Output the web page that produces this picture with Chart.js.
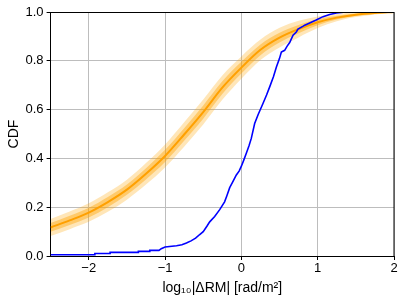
<!DOCTYPE html>
<html>
<head>
<meta charset="utf-8">
<script src="https://cdn.jsdelivr.net/npm/chart.js@4/dist/chart.umd.min.js"></script>
<style>
html,body{margin:0;padding:0;background:#fff;}
#wrap{width:404px;height:302px;}
</style>
</head>
<body>
<div id="wrap"><canvas id="c" width="404" height="302"></canvas></div>
<script>
// ---- data ----
const gridX = [-2.5,-2.25,-2.0,-1.75,-1.5,-1.25,-1.0,-0.75,-0.5,-0.25,0,0.25,0.5,0.75,1.0,1.25,1.5,1.75,2.0];
const medianCDF = [0.117,0.146,0.178,0.221,0.272,0.337,0.410,0.498,0.590,0.690,0.772,0.845,0.895,0.930,0.958,0.977,0.989,0.996,1.0];
const outerHalf = [0.035,0.036,0.038,0.040,0.041,0.044,0.047,0.050,0.051,0.050,0.046,0.042,0.040,0.034,0.024,0.015,0.010,0.006,0.002];
const innerHalf = [0.018,0.019,0.020,0.021,0.021,0.023,0.025,0.026,0.027,0.026,0.024,0.022,0.020,0.017,0.012,0.008,0.005,0.003,0.001];
const obsX = [-2.5,-1.92,-1.92,-1.72,-1.72,-1.35,-1.35,-1.2,-1.2,-1.08,-1.05,-1.0,-0.85,-0.78,-0.72,-0.66,-0.6,-0.55,-0.5,-0.45,-0.415,-0.35,-0.284,-0.22,-0.19,-0.153,-0.12,-0.066,-0.03,0,0.03,0.066,0.1,0.13,0.174,0.22,0.283,0.33,0.371,0.42,0.459,0.5,0.524,0.567,0.6,0.633,0.677,0.72,0.742,0.81,0.83,0.895,0.98,1.07,1.157,1.245,1.37];
const obsCDF = [0.005,0.005,0.010,0.010,0.015,0.015,0.019,0.019,0.023,0.023,0.030,0.037,0.042,0.046,0.053,0.062,0.073,0.087,0.100,0.123,0.140,0.162,0.190,0.222,0.247,0.280,0.300,0.332,0.348,0.368,0.392,0.422,0.452,0.482,0.543,0.580,0.625,0.660,0.693,0.735,0.775,0.810,0.836,0.843,0.860,0.875,0.905,0.918,0.930,0.942,0.946,0.955,0.967,0.981,0.990,0.996,1.0];
const xTicks = [-2,-1,0,1,2];
const yTicks = [0,0.2,0.4,0.6,0.8,1.0];

const pts = (xs, ys) => xs.map((x,i)=>({x:x, y:ys[i]}));
const band = (sign, half) => gridX.map((x,i)=>({x:x, y:Math.min(1, medianCDF[i] + sign*half[i])}));

const borderPlugin = {
  id:'frame',
  afterDatasetsDraw(chart){
    const {ctx, chartArea:a} = chart;
    ctx.save();
    ctx.lineWidth = 1;
    ctx.strokeStyle = '#000';
    ctx.beginPath();
    ctx.moveTo(a.left, a.top+0.5); ctx.lineTo(a.right, a.top+0.5);
    ctx.stroke();
    ctx.beginPath();
    ctx.moveTo(a.right, a.top); ctx.lineTo(a.right, a.bottom);
    ctx.stroke();
    ctx.restore();
  }
};

const FONT = "'Liberation Sans', Arial, Helvetica, sans-serif";

new Chart(document.getElementById('c'), {
  type:'line',
  data:{
    datasets:[
      {data:band(1,outerHalf), fill:'+1', backgroundColor:'rgba(255,165,0,0.28)', borderColor:'transparent', borderWidth:0, pointRadius:0, cubicInterpolationMode:'monotone', order:4},
      {data:band(-1,outerHalf), fill:false, borderColor:'transparent', borderWidth:0, pointRadius:0, cubicInterpolationMode:'monotone', order:4},
      {data:band(1,innerHalf), fill:'+1', backgroundColor:'rgba(255,165,0,0.42)', borderColor:'transparent', borderWidth:0, pointRadius:0, cubicInterpolationMode:'monotone', order:3},
      {data:band(-1,innerHalf), fill:false, borderColor:'transparent', borderWidth:0, pointRadius:0, cubicInterpolationMode:'monotone', order:3},
      {data:pts(gridX, medianCDF), fill:false, borderColor:'rgb(255,160,0)', borderWidth:2, pointRadius:0, cubicInterpolationMode:'monotone', order:2},
      {data:pts(obsX, obsCDF), fill:false, borderColor:'rgb(0,0,255)', borderWidth:1.6, pointRadius:0, tension:0, order:1}
    ]
  },
  options:{
    responsive:false,
    animation:false,
    events:[],
    layout:{padding:{left:0, right:10, top:12, bottom:0}},
    plugins:{legend:{display:false}, tooltip:{enabled:false}},
    scales:{
      x:{
        type:'linear', min:-2.5, max:2,
        afterBuildTicks(s){ s.ticks = xTicks.map(v=>({value:v})); },
        afterFit(s){ s.height = 46; },
        grid:{color:'#bdbdbd', lineWidth:1, tickColor:'#000', tickLength:4, drawTicks:true},
        border:{color:'#000', width:1},
        ticks:{font:{family:FONT, size:13}, color:'#000', padding:1, maxRotation:0,
          callback:(v)=> (v<0?'\u2212':'') + Math.abs(v)},
        title:{display:true, text:'log\u2081\u2080|\u0394RM| [rad/m\u00B2]', font:{family:FONT, size:14}, color:'#000', padding:{top:0,bottom:5}}
      },
      y:{
        type:'linear', min:0, max:1,
        afterBuildTicks(s){ s.ticks = yTicks.map(v=>({value:v})); },
        afterFit(s){ s.width = 50.6; },
        grid:{color:'#bdbdbd', lineWidth:1, tickColor:'#000', tickLength:4},
        border:{color:'#000', width:1},
        ticks:{font:{family:FONT, size:13}, color:'#000', padding:3,
          callback:(v)=> v.toFixed(1)},
        title:{display:true, text:'CDF', font:{family:FONT, size:14}, color:'#000', padding:{top:6,bottom:0}}
      }
    }
  },
  plugins:[borderPlugin]
});
</script>
</body>
</html>
